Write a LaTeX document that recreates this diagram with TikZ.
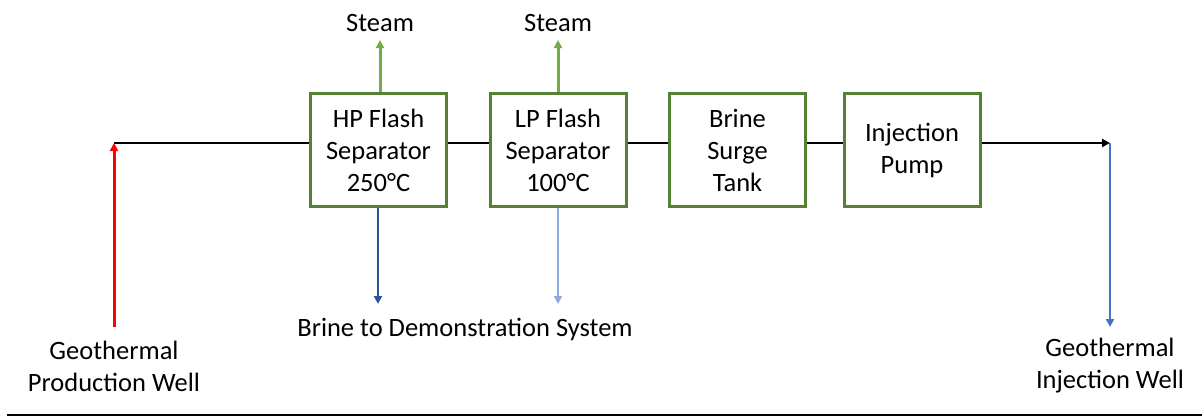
\documentclass[tikz,border=0pt]{standalone}
\usepackage{fontspec}
\setmainfont{Carlito}
\usetikzlibrary{arrows.meta}
\definecolor{boxgreen}{HTML}{548235}
\definecolor{steamgreen}{HTML}{70AD47}
\definecolor{darkblue}{HTML}{2F5597}
\definecolor{lightblue}{HTML}{8FAADC}
\definecolor{midblue}{HTML}{4472C4}
\begin{document}
\begin{tikzpicture}[x=1bp,y=-1bp,
  unitbox/.style={draw=boxgreen,line width=3bp,fill=white,minimum width=136bp,minimum height=113bp,align=center,inner sep=0pt,font=\fontsize{26.5bp}{32bp}\selectfont},
  lbl/.style={align=center,inner sep=0pt,font=\fontsize{26.5bp}{32bp}\selectfont},
  flow/.style={line width=2.5bp},
  tip/.style={-{Triangle[width=8bp,length=8bp]}}]
\useasboundingbox (0,0) rectangle (1202,417);
% boxes
\node[unitbox] (hp) at (378.5,150) {HP Flash\\Separator\\250°C};
\node[unitbox] (lp) at (558,150) {LP Flash\\Separator\\100°C};
\node[unitbox] (bst) at (737.5,150) {Brine\\Surge\\Tank};
\node[unitbox] (ip) at (912,150) {Injection\\Pump};
% coordinates
\coordinate (start) at (114,143);
\coordinate (redbot) at (114,327);
\coordinate (endp) at (1110,143);
\coordinate (injbot) at (1110,327);
\coordinate (hpsteam) at (380,40);
\coordinate (lpsteam) at (558,40);
\coordinate (hpbrine) at (378,304);
\coordinate (lpbrine) at (558,304);
% labels
\node[lbl] (st1) at (380,23) {Steam};
\node[lbl] (st2) at (558,23) {Steam};
\node[lbl] (brine) at (465,329) {Brine to Demonstration System};
\node[lbl] (pw) at (114,366) {Geothermal\\Production Well};
\node[lbl] (iw) at (1110,366) {Geothermal\\Injection Well};
% main line
\draw[flow] (start) -- (hp.west |- start);
\draw[flow] (hp.east |- start) -- (lp.west |- start);
\draw[flow] (lp.east |- start) -- (bst.west |- start);
\draw[flow] (bst.east |- start) -- (ip.west |- start);
\draw[flow,tip] (ip.east |- start) -- (endp);
% vertical arrows
\draw[flow,red,line width=3bp,tip] (redbot) -- (start);
\draw[flow,midblue,tip] (endp) -- (injbot);
\draw[flow,steamgreen,line width=3bp,tip] (hpsteam |- hp.north) -- (hpsteam);
\draw[flow,steamgreen,line width=3bp,tip] (lp.north) -- (lpsteam);
\draw[flow,darkblue,tip] (hpbrine |- hp.south) -- (hpbrine);
\draw[flow,lightblue,tip] (lp.south) -- (lpbrine);
% bottom rule
\coordinate (r1) at (7,415);
\coordinate (r2) at (1202,415);
\draw[line width=1.2bp] (r1) -- (r2);
\end{tikzpicture}
\end{document}
